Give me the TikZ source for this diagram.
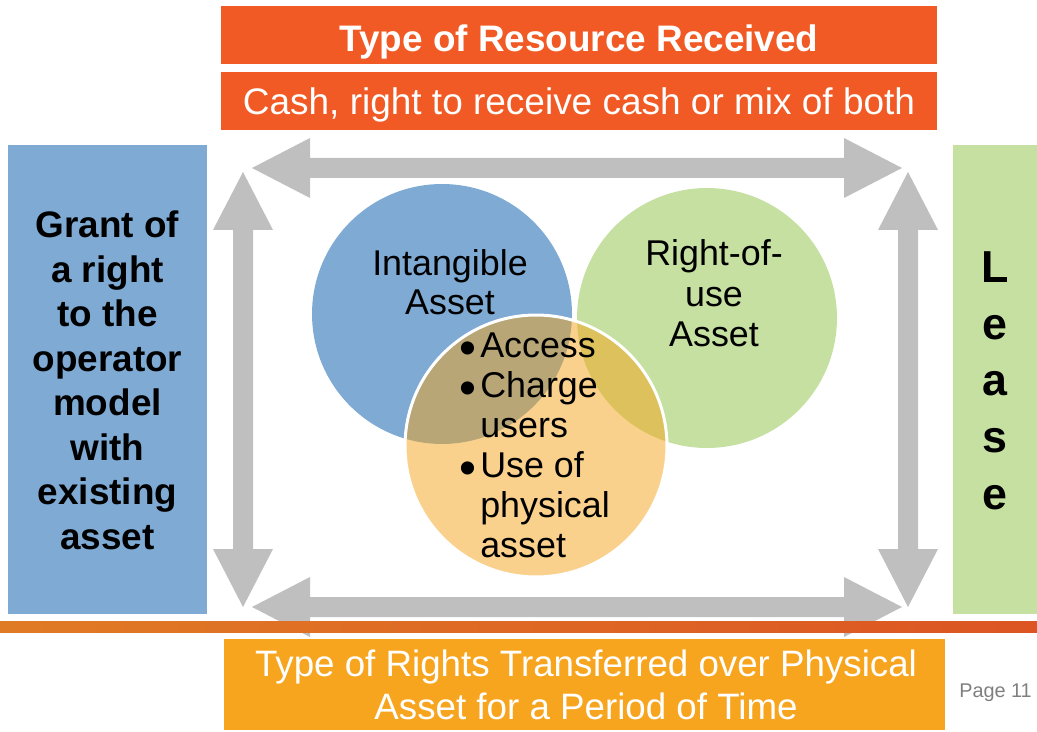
\documentclass[tikz,border=0pt]{standalone}
\usepackage{fontspec}
\setmainfont{Liberation Sans}
\definecolor{hdrorange}{HTML}{F15A24}
\definecolor{boxblue}{HTML}{7EAAD4}
\definecolor{boxgreen}{HTML}{C5E0A1}
\definecolor{boxamber}{HTML}{F7A51E}
\definecolor{arrowgray}{HTML}{BFBFBF}
\definecolor{circorange}{HTML}{F5A41A}
\definecolor{ruleleft}{HTML}{E07B25}
\definecolor{ruleright}{HTML}{DC5523}
\definecolor{pagegray}{HTML}{7F7F7F}

% double-headed block arrows (pixel units): from, to, fixed coordinate
\newcommand\hblockarrow[3]{%
  \fill[arrowgray] (#1,#3) -- ({#1+58},{#3-30}) -- ({#1+58},{#3-10}) -- ({#2-58},{#3-10})
    -- ({#2-58},{#3-30}) -- (#2,#3) -- ({#2-58},{#3+30}) -- ({#2-58},{#3+10})
    -- ({#1+58},{#3+10}) -- ({#1+58},{#3+30}) -- cycle;}
\newcommand\vblockarrow[3]{%
  \fill[arrowgray] (#3,#1) -- ({#3-30},{#1+58}) -- ({#3-10},{#1+58}) -- ({#3-10},{#2-58})
    -- ({#3-30},{#2-58}) -- (#3,#2) -- ({#3+30},{#2-58}) -- ({#3+10},{#2-58})
    -- ({#3+10},{#1+58}) -- ({#3+30},{#1+58}) -- cycle;}
\newcommand\stacklines[1]{\begin{tabular}{@{}c@{}}#1\end{tabular}}
\newcommand\bigbullet{\raisebox{-0.2em}{\scalebox{1.35}{\textbullet}}}

\begin{document}
\begin{tikzpicture}[x=0.02cm,y=-0.02cm,
  panel/.style={draw=none,inner sep=0pt,outer sep=0pt},
  whitetext/.style={text=white,inner sep=0pt},
  venn/.style={circle,inner sep=0pt,outer sep=0pt,minimum size=5.2cm},
  incircle/.style={inner sep=0pt,font=\fontsize{20.4}{22.7}\selectfont}]
\useasboundingbox (0,0) rectangle (1037,732);

% header bars
\node[panel,fill=hdrorange,minimum width=14.32cm,minimum height=1.16cm] (resbox) at (579,35) {};
\node[whitetext,anchor=base,font=\fontsize{21}{24}\selectfont\bfseries] (restitle) at (579,52) {Type of Resource Received};
\node[panel,fill=hdrorange,minimum width=14.32cm,minimum height=1.16cm] (cashbox) at (579,101) {};
\node[whitetext,anchor=base,font=\fontsize{21.05}{24}\selectfont] (cashtext) at (579,115) {Cash, right to receive cash or mix of both};

% side panels
\node[panel,fill=boxblue,minimum width=3.98cm,minimum height=9.38cm] (grantbox) at (107.5,379.5) {};
\node[inner sep=0pt,font=\fontsize{21}{25.3}\selectfont\bfseries] (granttext) at (107.5,384.6)
  {\stacklines{Grant of\\a right\\to the\\operator\\model\\with\\existing\\asset}};
\node[panel,fill=boxgreen,minimum width=1.68cm,minimum height=9.38cm] (leasebox) at (995,379.5) {};
\node[inner sep=0pt,font=\fontsize{25.5}{32.3}\selectfont\bfseries] (leasetext) at (995,384.6)
  {\stacklines{L\\e\\a\\s\\e}};

% gray double arrows framing the centre
\hblockarrow{252}{902}{168}
\hblockarrow{252}{902}{607}
\vblockarrow{172}{607}{243}
\vblockarrow{172}{607}{908}

% overlapping asset circles
\node[venn,fill=boxblue] (intang) at (442,314) {};
\node[venn,fill=boxgreen] (rou) at (707,318) {};
\node[venn,minimum size=5.24cm,fill=circorange,fill opacity=0.5,draw=white,line width=1.7pt] (phys) at (536,446) {};

\node[incircle] (intangtext) at (450,287) {\stacklines{Intangible\\Asset}};
\node[incircle,font=\fontsize{20.4}{23.2}\selectfont] (routext) at (714,298) {\stacklines{Right-of-\\use\\Asset}};
\node[incircle,anchor=west] (physlist) at (459.5,449.5)
  {\begin{tabular}{@{}l@{\hspace{2pt}}l@{}}\bigbullet&Access\\\bigbullet&Charge\\&users\\\bigbullet&Use of\\&physical\\&asset\end{tabular}};

% footer rule and bar
\path[left color=ruleleft,right color=ruleright] (0,621) rectangle (1037,632);
\node[panel,fill=boxamber,minimum width=14.42cm,minimum height=1.82cm] (rightsbox) at (584.5,684.5) {};
\node[whitetext,font=\fontsize{20.9}{24.4}\selectfont] (rightstext) at (586,689)
  {\stacklines{Type of Rights Transferred over Physical\\Asset for a Period of Time}};
\node[inner sep=0pt,text=pagegray,font=\fontsize{11.3}{13}\selectfont,anchor=base] (pagenum) at (995.5,697) {Page 11};
\end{tikzpicture}
\end{document}
